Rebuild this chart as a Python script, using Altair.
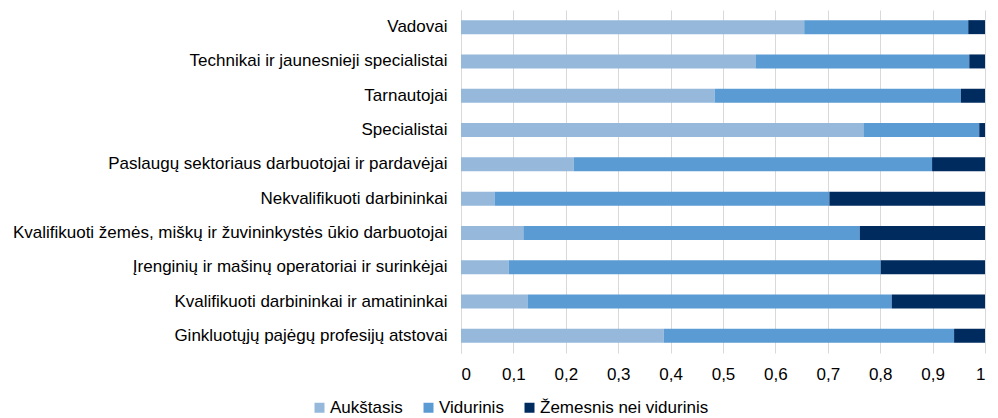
import altair as alt
import pandas as pd

categories = [
    "Vadovai",
    "Technikai ir jaunesnieji specialistai",
    "Tarnautojai",
    "Specialistai",
    "Paslaugų sektoriaus darbuotojai ir pardavėjai",
    "Nekvalifikuoti darbininkai",
    "Kvalifikuoti žemės, miškų ir žuvininkystės ūkio darbuotojai",
    "Įrenginių ir mašinų operatoriai ir surinkėjai",
    "Kvalifikuoti darbininkai ir amatininkai",
    "Ginkluotųjų pajėgų profesijų atstovai",
]
series = ["Aukštasis", "Vidurinis", "Žemesnis nei vidurinis"]
aukstasis = [0.655, 0.562, 0.484, 0.768, 0.215, 0.064, 0.119, 0.091, 0.127, 0.387]
vidurinis = [0.313, 0.408, 0.470, 0.221, 0.684, 0.639, 0.642, 0.710, 0.695, 0.554]
zemesnis = [0.032, 0.030, 0.046, 0.011, 0.101, 0.297, 0.239, 0.199, 0.178, 0.059]
colors = ["#95B8DB", "#5B9BD3", "#002B5F"]
x_ticks = [0, 0.1, 0.2, 0.3, 0.4, 0.5, 0.6, 0.7, 0.8, 0.9, 1]

rows = []
for i, c in enumerate(categories):
    for j, (s, vals) in enumerate(zip(series, [aukstasis, vidurinis, zemesnis])):
        rows.append({"Profesija": c, "Išsilavinimas": s, "Dalis": vals[i], "order": j})
df = pd.DataFrame(rows)

FONT = "Liberation Sans"
FS = 17

chart = (
    alt.Chart(df)
    .mark_bar(size=14)
    .encode(
        y=alt.Y(
            "Profesija:N",
            sort=categories,
            scale=alt.Scale(paddingInner=0, paddingOuter=0),
            axis=alt.Axis(
                title=None,
                ticks=False,
                domain=True,
                domainColor="#D9D9D9",
                domainWidth=1,
                labelFont=FONT,
                labelFontSize=FS,
                labelColor="#000000",
                labelPadding=14,
                labelLimit=600,
                grid=False,
            ),
        ),
        x=alt.X(
            "Dalis:Q",
            stack="zero",
            scale=alt.Scale(domain=[0, 1], nice=False),
            axis=alt.Axis(
                title=None,
                values=x_ticks,
                labelExpr="replace(format(datum.value, '.1~f'), '.', ',')",
                ticks=False,
                domain=False,
                grid=True,
                gridColor="#D9D9D9",
                gridWidth=1,
                labelFont=FONT,
                labelFontSize=FS,
                labelColor="#000000",
                labelPadding=13,
            ),
        ),
        color=alt.Color(
            "Išsilavinimas:N",
            sort=series,
            scale=alt.Scale(domain=series, range=colors),
            legend=alt.Legend(
                title=None,
                orient="none",
                direction="horizontal",
                legendX=-150,
                legendY=389,
                symbolType="square",
                symbolSize=100,
                symbolStrokeWidth=0,
                labelFont=FONT,
                labelFontSize=FS,
                labelColor="#000000",
                labelOffset=2,
                columnPadding=17,
                labelLimit=400,
            ),
        ),
        order=alt.Order("order:Q"),
    )
    .properties(
        width=524,
        height=343,
        autosize=alt.AutoSizeParams(type="none"),
        padding={"left": 453, "top": 2, "right": 5, "bottom": 65},
    )
    .configure_view(stroke=None)
)

chart.save("out.html", embed_options={"renderer": "svg", "actions": False})
